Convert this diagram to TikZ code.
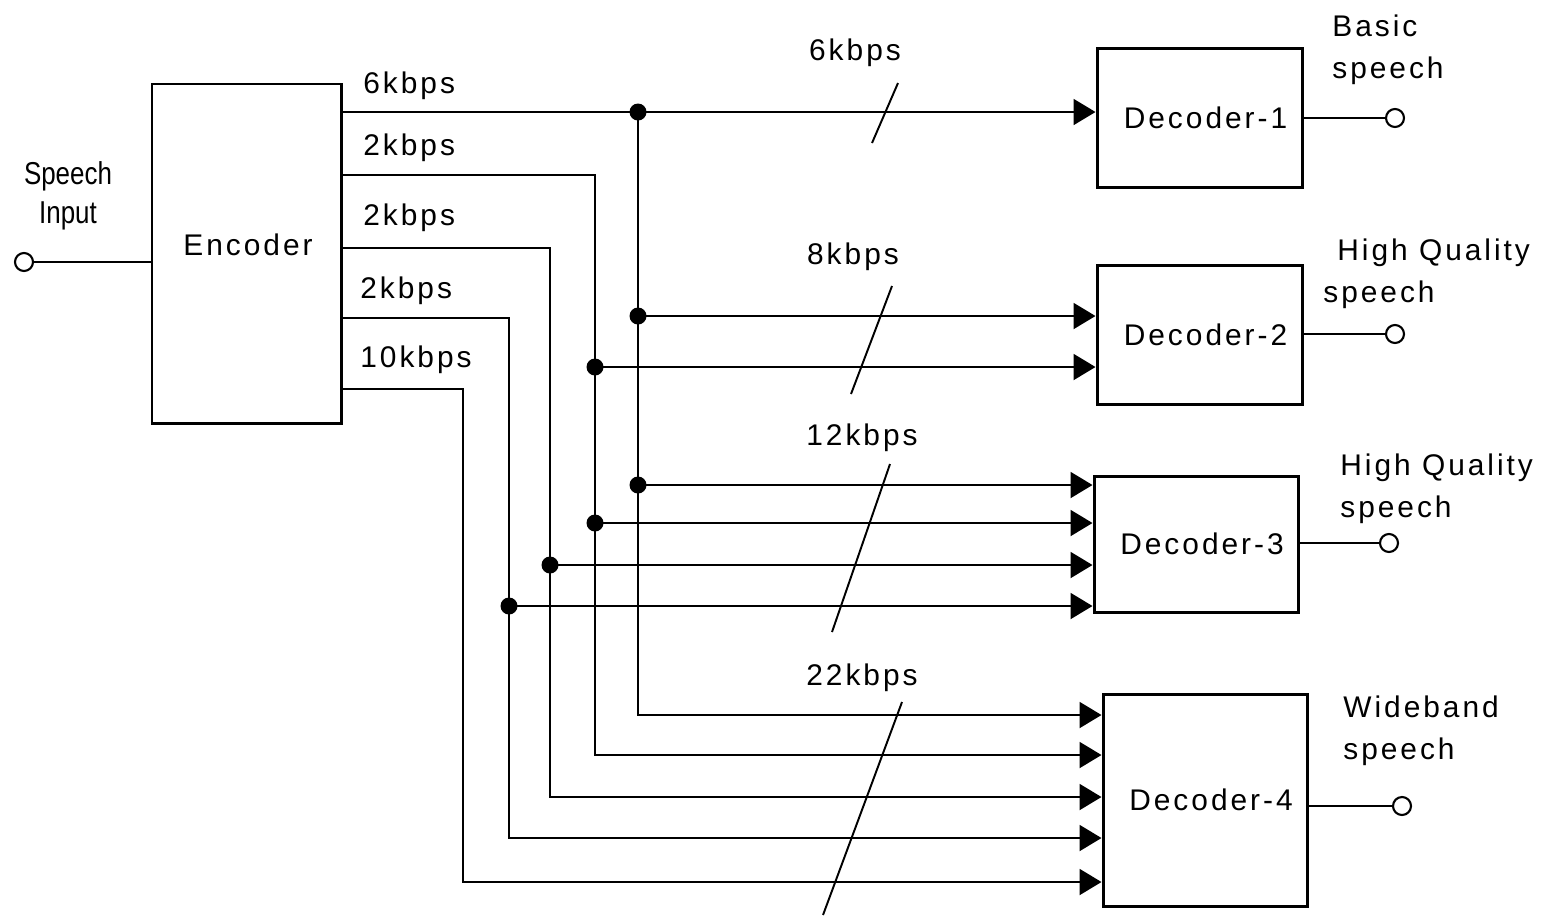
\documentclass[tikz,border=0pt]{standalone}
\usepackage{fontspec}
\setmainfont{Liberation Sans}[LetterSpace=10]
\newfontfamily\narrowfont{Liberation Sans}[FakeStretch=0.82]
\usetikzlibrary{arrows.meta}

\tikzset{
  block/.style={draw, line width=1.7pt, inner sep=0pt},
  wire/.style={line width=1.1pt},
  feed/.style={wire, -{Triangle[length=4.4mm,width=5.2mm]}},
  dot/.style={circle, fill, inner sep=0pt, minimum size=3.4mm},
  term/.style={circle, draw, line width=1.2pt, fill=white, inner sep=0pt, minimum size=3.6mm},
  rate/.style={inner sep=0pt},
  outlbl/.style={anchor=west, align=left, inner sep=0pt},
}

\begin{document}
\begin{tikzpicture}[x=0.2mm,y=-0.2mm,font=\fontsize{17}{24}\selectfont]
\useasboundingbox (0,0) rectangle (1551,917);

% blocks
\node[block, minimum width=37.8mm, minimum height=67.8mm] (enc) at (246.5,253.5) {};
\node (enctxt) at (248,245) {Encoder};
\node[block, minimum width=41mm, minimum height=27.8mm] (d1) at (1199.5,117.5) {\hspace*{2.4mm}Decoder-1};
\node[block, minimum width=41mm, minimum height=27.8mm] (d2) at (1199.5,334.5) {\hspace*{2.4mm}Decoder-2};
\node[block, minimum width=40.8mm, minimum height=27.2mm] (d3) at (1196,544) {\hspace*{2.4mm}Decoder-3};
\node[block, minimum width=40.8mm, minimum height=42.4mm] (d4) at (1205,800) {\hspace*{2.4mm}Decoder-4};

% in and out terminals
\node[term] (in) at (24,262) {};
\node[term] (out1) at (1395,118) {};
\node[term] (out2) at (1395,334) {};
\node[term] (out3) at (1389,543) {};
\node[term] (out4) at (1402,806) {};
\draw[wire] (in) -- (enc.west |- in);
\draw[wire] (d1.east |- out1) -- (out1);
\draw[wire] (d2.east |- out2) -- (out2);
\draw[wire] (d3.east |- out3) -- (out3);
\draw[wire] (d4.east |- out4) -- (out4);

\node[align=center, inner sep=0pt, font=\narrowfont\fontsize{18}{22}\selectfont] (inlbl) at (68,196) {Speech\\Input};
\node[outlbl] (lbl1) at (1332,50) {Basic\\speech};
\node[outlbl] (lbl2) at (1323,274) {\hspace*{2.8mm}High Quality\\speech};
\node[outlbl] (lbl3) at (1340,489) {High Quality\\speech};
\node[outlbl] (lbl4) at (1343,731) {Wideband\\speech};

% junctions
\node[dot] (t1) at (638,112) {};
\node[dot] (t2) at (638,316) {};
\node[dot] (t3) at (595,367) {};
\node[dot] (t4) at (638,485) {};
\node[dot] (t5) at (595,523) {};
\node[dot] (t6) at (550,565) {};
\node[dot] (t7) at (509,606) {};

% 6kbps
\draw[wire] (enc.east |- t1) -- (t1.center);
\draw[feed] (t1.center) -- (d1.west |- t1);
\draw[wire] (t1.center) -- (t2.center) -- (t4.center);
\draw[feed] (t2.center) -- (d2.west |- t2);
\draw[feed] (t4.center) -- (d3.west |- t4);
\draw[feed] (t4.center) |- (d4.west |- 0,715);
% 2kbps
\draw[wire] (enc.east |- 0,175) -| (t3.center) -- (t5.center);
\draw[feed] (t3.center) -- (d2.west |- t3);
\draw[feed] (t5.center) -- (d3.west |- t5);
\draw[feed] (t5.center) |- (d4.west |- 0,755);
% 2kbps
\draw[wire] (enc.east |- 0,248) -| (t6.center);
\draw[feed] (t6.center) -- (d3.west |- t6);
\draw[feed] (t6.center) |- (d4.west |- 0,797);
% 2kbps
\draw[wire] (enc.east |- 0,318) -| (t7.center);
\draw[feed] (t7.center) -- (d3.west |- t7);
\draw[feed] (t7.center) |- (d4.west |- 0,838);
% 10kbps
\draw[feed] (enc.east |- 0,389) -| (463,600) |- (d4.west |- 0,882);

% rates
\node[rate, anchor=west] (r1) at (363,86) {6kbps};
\node[rate, anchor=west] (r2) at (363,148) {2kbps};
\node[rate, anchor=west] (r3) at (363,218) {2kbps};
\node[rate, anchor=west] (r4) at (360,291) {2kbps};
\node[rate, anchor=west] (r5) at (360,360) {10kbps};
\node[rate] (s1) at (855,53) {6kbps};
\node[rate] (s2) at (853,257) {8kbps};
\node[rate] (s3) at (862,438) {12kbps};
\node[rate] (s4) at (862,678) {22kbps};
\draw[wire] (898,83) -- (872,143);
\draw[wire] (892,286) -- (851,394);
\draw[wire] (890,464) -- (832,632);
\draw[wire] (902,702) -- (823,915);
\end{tikzpicture}
\end{document}
